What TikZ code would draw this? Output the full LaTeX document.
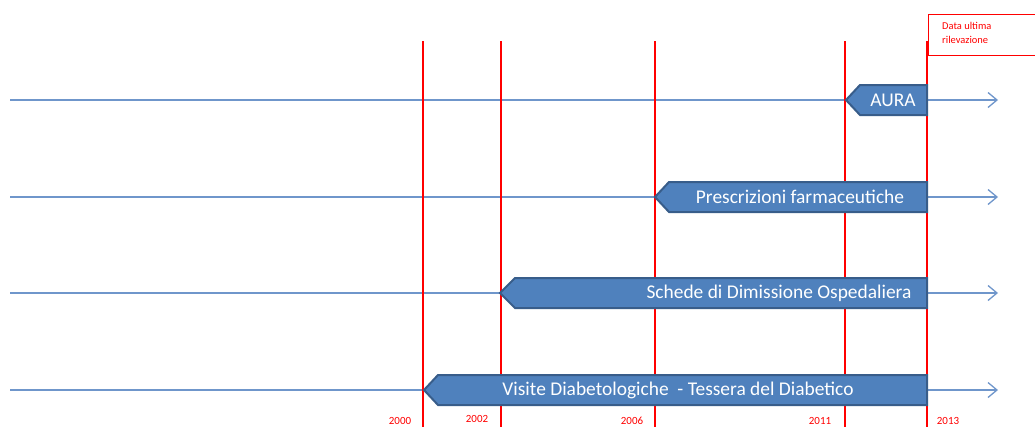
\documentclass[tikz,border=0pt]{standalone}
\usepackage{fontspec}
\setmainfont{Carlito}
\usetikzlibrary{arrows.meta}
\definecolor{barfill}{HTML}{4F81BD}
\definecolor{baredge}{HTML}{385D8A}
\definecolor{axisblue}{HTML}{6F96CB}
\definecolor{markred}{HTML}{FF0000}
\tikzset{
  axisline/.style={draw=axisblue, line width=1.5bp, -{Straight Barb[length=9bp,width=15bp,line width=1.3bp]}},
  yearline/.style={draw=markred, line width=1.1bp},
  barshape/.style={fill=barfill, draw=baredge, line width=2bp, line join=miter},
  bartext/.style={text=white, font=\fontsize{19.5}{22}\selectfont, inner sep=0pt},
  yeartext/.style={text=markred, font=\fontsize{11}{12}\selectfont, inner sep=0pt, anchor=base},
  notebox/.style={draw=markred, line width=1bp, fill=white},
  notetext/.style={text=markred, font=\fontsize{10.5}{14}\selectfont, align=left, inner sep=0pt, anchor=north west}
}
\begin{document}
\begin{tikzpicture}[x=1bp,y=-1bp]
\useasboundingbox (0,0) rectangle (1035,426);
% horizontal axes
\coordinate (sa) at (10,100);  \coordinate (ea) at (998,100);
\coordinate (sb) at (10,197);  \coordinate (eb) at (998,197);
\coordinate (sc) at (10,293);  \coordinate (ec) at (998,293);
\coordinate (sd) at (10,390);  \coordinate (ed) at (998,390);
\draw[axisline] (sa) -- (ea);
\draw[axisline] (sb) -- (eb);
\draw[axisline] (sc) -- (ec);
\draw[axisline] (sd) -- (ed);
% year lines
\coordinate (t00) at (423,41); \coordinate (b00) at (423,430);
\coordinate (t02) at (501,41); \coordinate (b02) at (501,430);
\coordinate (t06) at (655,41); \coordinate (b06) at (655,430);
\coordinate (t11) at (845,41); \coordinate (b11) at (845,430);
\coordinate (t13) at (927,41); \coordinate (b13) at (927,430);
\draw[yearline] (t00) -- (b00);
\draw[yearline] (t02) -- (b02);
\draw[yearline] (t06) -- (b06);
\draw[yearline] (t11) -- (b11);
\draw[yearline] (t13) -- (b13);
% bars
\draw[barshape] (846,100) -- (860,85) -- (927,85) -- (927,115) -- (860,115) -- cycle;
\draw[barshape] (655,197) -- (669,182) -- (927,182) -- (927,212) -- (669,212) -- cycle;
\draw[barshape] (500,293) -- (515,278) -- (927,278) -- (927,308) -- (515,308) -- cycle;
\draw[barshape] (424,390) -- (438,375) -- (927,375) -- (927,405) -- (438,405) -- cycle;
\node[bartext] (aura) at (893,100) {AURA};
\node[bartext] (presc) at (800,197) {Prescrizioni farmaceutiche};
\node[bartext] (sdo) at (779,293) {Schede di Dimissione Ospedaliera};
\node[bartext] (visite) at (678,390) {Visite Diabetologiche\ \ - Tessera del Diabetico};
% years
\node[yeartext] (l2000) at (400,424) {2000};
\node[yeartext] (l2002) at (477,422.5) {2002};
\node[yeartext] (l2006) at (632,424) {2006};
\node[yeartext] (l2011) at (820,424) {2011};
\node[yeartext] (l2013) at (948,424) {2013};
% note box
\draw[notebox] (928.5,14.5) -- (1040,14.5) -- (1040,55) -- (928.5,55) -- cycle;
\node[notetext] (note) at (942,22) {Data ultima\\rilevazione};
\end{tikzpicture}
\end{document}
